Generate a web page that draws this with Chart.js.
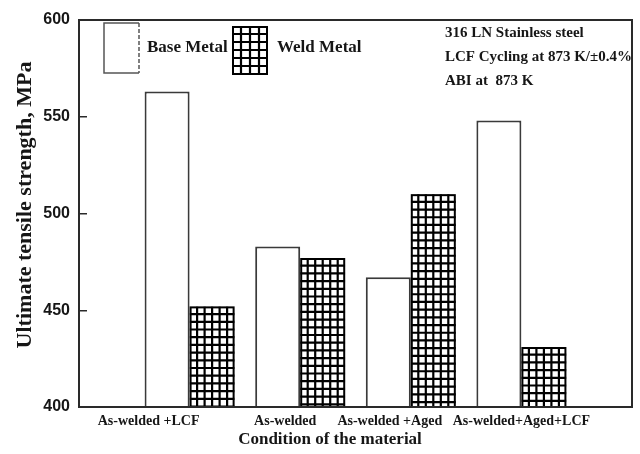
<!DOCTYPE html>
<html>
<head>
<meta charset="utf-8">
<script src="https://cdn.jsdelivr.net/npm/chart.js@4.4.1/dist/chart.umd.min.js"></script>
<style>
  html, body { margin: 0; padding: 0; background: #fff; }
  #wrap { width: 640px; height: 454px; }
</style>
</head>
<body>
<div id="wrap"><canvas id="c" width="640" height="454"></canvas></div>
<script>
// Ultimate tensile strength of 316 LN base and weld metal in four conditions
const categories = ['As-welded +LCF', 'As-welded', 'As-welded +Aged', 'As-welded+Aged+LCF'];
const baseMetal = [563, 483, 467, 548];
const weldMetal = [452, 477, 510, 431];
const yTicks = [400, 450, 500, 550, 600];
const seriesNames = ['Base Metal', 'Weld Metal'];
const notes = ['316 LN Stainless steel', 'LCF Cycling at 873 K/\u00b10.4%', 'ABI at  873 K'];
const yTitle = 'Ultimate tensile strength, MPa';
const xTitle = 'Condition of the material';

// category slots with an empty slot on each side so the groups sit at 1..4 of 0..5
const labels = [''].concat(categories, ['']);
const pad = arr => [null].concat(arr, [null]);

const SERIF = '"Liberation Serif", "Times New Roman", serif';
const SANS = '"Liberation Sans", Arial, sans-serif';
const INK = '#161616';
const FRAME = '#2a2a2a';

// horizontal nudges of the category labels relative to their group centre
const labelShift = [-41, -15, -21, 0];

function drawGrid(ctx, left, top, right, bottom, cols, rowStep) {
  ctx.save();
  ctx.beginPath();
  ctx.rect(left, top, right - left, bottom - top);
  ctx.clip();
  ctx.strokeStyle = '#000';
  ctx.lineWidth = 2.2;
  ctx.beginPath();
  const w = (right - left) / cols;
  for (let k = 1; k < cols; k++) {
    const x = left + k * w;
    ctx.moveTo(x, top); ctx.lineTo(x, bottom);
  }
  for (let y = top + rowStep; y < bottom; y += rowStep) {
    ctx.moveTo(left, y); ctx.lineTo(right, y);
  }
  ctx.stroke();
  ctx.restore();
}

const decor = {
  id: 'decor',
  afterDatasetsDraw(chart) {
    const ctx = chart.ctx;
    const floor = chart.scales.y.getPixelForValue(chart.scales.y.min);
    const values = chart.data.datasets[1].data;
    // cross-hatching inside the weld-metal bars
    chart.getDatasetMeta(1).data.forEach((bar, i) => {
      if (values[i] == null) return;
      const left = bar.x - bar.width / 2;
      const right = bar.x + bar.width / 2;
      const bottom = Math.min(bar.base, floor);
      drawGrid(ctx, left, bar.y, right, bottom, 6, 7.7);
      ctx.save();
      ctx.strokeStyle = '#000';
      ctx.lineWidth = 2;
      ctx.strokeRect(left + 1, bar.y + 1, bar.width - 2, bottom - bar.y - 1);
      ctx.restore();
    });
  },
  afterDraw(chart) {
    const ctx = chart.ctx;
    const xs = chart.scales.x;
    const ys = chart.scales.y;
    const L = xs.getPixelForValue(0), R = xs.getPixelForValue(labels.length - 1);
    const T = ys.getPixelForValue(ys.max), B = ys.getPixelForValue(ys.min);

    // plot frame
    ctx.save();
    ctx.strokeStyle = FRAME;
    ctx.lineWidth = 2;
    ctx.beginPath();
    ctx.moveTo(L, B); ctx.lineTo(R, B); ctx.lineTo(R, T); ctx.lineTo(L, T); ctx.lineTo(L, B);
    ctx.closePath();
    ctx.stroke();
    ctx.restore();

    ctx.save();
    ctx.fillStyle = INK;
    ctx.textBaseline = 'middle';

    // category labels
    ctx.font = 'bold 14px ' + SERIF;
    ctx.textAlign = 'center';
    categories.forEach((c, i) => {
      ctx.fillText(c, xs.getPixelForValue(i + 1) + labelShift[i], B + 14);
    });

    // axis titles
    ctx.font = 'bold 17px ' + SERIF;
    ctx.fillText(xTitle, 330, 440);
    ctx.save();
    ctx.font = 'bold 22px ' + SERIF;
    ctx.translate(25, 205);
    ctx.rotate(-Math.PI / 2);
    ctx.fillText(yTitle, 0, 0);
    ctx.restore();

    // legend
    ctx.save();
    ctx.strokeStyle = '#555';
    ctx.lineWidth = 1.5;
    ctx.beginPath();
    ctx.moveTo(139, 73); ctx.lineTo(104, 73); ctx.lineTo(104, 23); ctx.lineTo(139, 23);
    ctx.stroke();
    ctx.setLineDash([4, 2]);
    ctx.beginPath();
    ctx.moveTo(139, 23); ctx.lineTo(139, 73);
    ctx.stroke();
    ctx.restore();
    drawGrid(ctx, 232, 26, 268, 75, 4, 8);
    ctx.save();
    ctx.strokeStyle = '#000';
    ctx.lineWidth = 2;
    ctx.strokeRect(233, 27, 34, 47);
    ctx.restore();
    ctx.font = 'bold 17px ' + SERIF;
    ctx.textAlign = 'left';
    ctx.fillText(seriesNames[0], 147, 48);
    ctx.fillText(seriesNames[1], 277, 48);

    // test conditions
    ctx.font = 'bold 15px ' + SERIF;
    notes.forEach((t, i) => ctx.fillText(t, 445, 33 + i * 24));
    ctx.restore();
  }
};

new Chart(document.getElementById('c'), {
  type: 'bar',
  data: {
    labels: labels,
    datasets: [
      {
        label: seriesNames[0],
        data: pad(baseMetal),
        backgroundColor: '#ffffff',
        borderColor: '#3a3a3a',
        borderWidth: 2,
        borderSkipped: 'bottom'
      },
      {
        label: seriesNames[1],
        data: pad(weldMetal),
        backgroundColor: '#ffffff',
        borderColor: '#000000',
        borderWidth: 0
      }
    ]
  },
  plugins: [decor],
  options: {
    responsive: false,
    animation: false,
    devicePixelRatio: 1,
    layout: { padding: { left: 0, top: 20, right: 8, bottom: 0 } },
    datasets: { bar: { categoryPercentage: 0.814, barPercentage: 1 } },
    plugins: { legend: { display: false }, tooltip: { enabled: false } },
    scales: {
      x: {
        offset: false,
        grid: { display: false, offset: false },
        border: { display: true, color: FRAME, width: 2 },
        ticks: { display: false },
        afterFit(s) { s.height = 47; s.paddingLeft = 0; s.paddingRight = 0; }
      },
      y: {
        min: 400,
        max: 600,
        afterBuildTicks(s) { s.ticks = yTicks.map(v => ({ value: v })); },
        grid: { drawOnChartArea: false, drawTicks: true, tickLength: -8, color: FRAME, lineWidth: 1.5 },
        border: { display: true, color: FRAME, width: 2 },
        ticks: {
          padding: 17,
          color: INK,
          font: { family: SANS, size: 16, weight: 'bold' }
        },
        afterFit(s) { s.width = 79; s.paddingTop = 0; s.paddingBottom = 0; }
      }
    }
  }
});
</script>
</body>
</html>
